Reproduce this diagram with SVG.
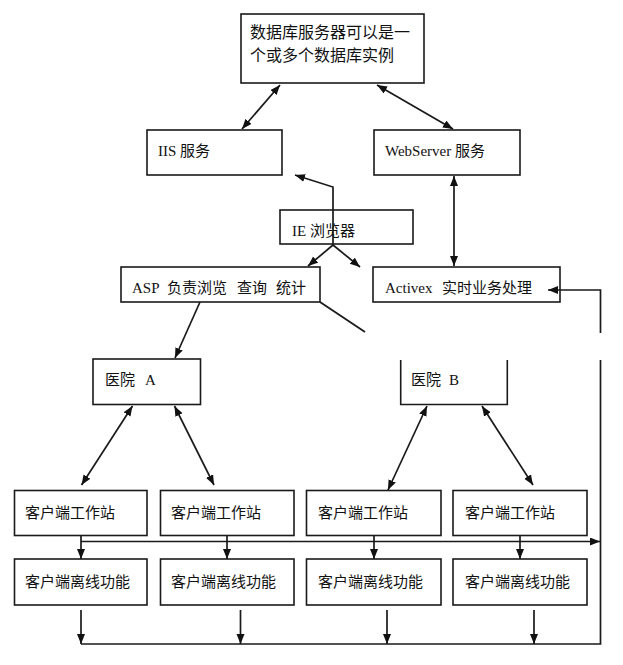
<svg xmlns="http://www.w3.org/2000/svg" width="623" height="665" viewBox="0 0 623 665">
<style>
.box{fill:#fff;stroke:#1a1a1a;stroke-width:1.6}
.open{fill:none;stroke:#1a1a1a;stroke-width:1.6}
.t{font-family:"Liberation Serif","Noto Sans CJK SC",serif;font-size:15px;fill:#111}
.t16{font-size:16px}
.ln{fill:none;stroke:#1a1a1a;stroke-width:1.7}
.a{marker-end:url(#ah)}
.aa{marker-start:url(#ah);marker-end:url(#ah)}
</style>
<defs>
<marker id="ah" markerUnits="userSpaceOnUse" markerWidth="11" markerHeight="9" refX="10" refY="4" orient="auto-start-reverse">
<path d="M0,0 L10,4 L0,8 Z" fill="#111"/>
</marker>
</defs>
<rect width="623" height="665" fill="#fff"/>
<g id="db"><rect class="box" x="241" y="14" width="183" height="69"/>
<text class="t t16" x="250" y="38">数据库服务器可以是一</text>
<text class="t t16" x="250" y="61">个或多个数据库实例</text></g>
<g id="iis"><rect class="box" x="147" y="130" width="135" height="45"/><text class="t" x="158" y="156">IIS 服务</text></g>
<g id="webserver"><rect class="box" x="374" y="130" width="146" height="45"/><text class="t" x="385" y="156">WebServer 服务</text></g>
<g id="ie"><rect class="box" x="280" y="210" width="133" height="34"/><text class="t" x="292" y="236">IE 浏览器</text></g>
<g id="asp"><rect class="box" x="121" y="267" width="199" height="35"/>
<text class="t"><tspan x="132" y="293">ASP</tspan><tspan x="167" y="293">负责浏览</tspan><tspan x="237" y="293">查询</tspan><tspan x="276" y="293">统计</tspan></text></g>
<g id="activex"><rect class="box" x="373" y="267" width="187" height="35"/>
<text class="t"><tspan x="385" y="293">Activex</tspan><tspan x="442" y="293">实时业务处理</tspan></text></g>
<g id="hospA"><rect class="box" x="93" y="359" width="107.5" height="45.5"/><text class="t"><tspan x="105" y="385">医院</tspan><tspan x="145" y="385">A</tspan></text></g>
<g id="hospB"><path class="open" d="M400.7,360 V404.5 H507.3 V360"/><text class="t"><tspan x="411" y="385">医院</tspan><tspan x="449" y="385">B</tspan></text></g>
<g id="ws1"><rect class="box" x="14.5" y="490.5" width="132.5" height="45"/><text class="t" x="25" y="518">客户端工作站</text></g>
<g id="ws2"><rect class="box" x="160.5" y="490.5" width="133.5" height="45"/><text class="t" x="171" y="518">客户端工作站</text></g>
<g id="ws3"><rect class="box" x="306.5" y="490.5" width="134.5" height="45"/><text class="t" x="318" y="518">客户端工作站</text></g>
<g id="ws4"><rect class="box" x="453" y="490.5" width="134" height="45"/><text class="t" x="465" y="518">客户端工作站</text></g>
<g id="off1"><rect class="box" x="14.5" y="559" width="132.5" height="46"/><text class="t" x="25" y="587">客户端离线功能</text></g>
<g id="off2"><rect class="box" x="160.5" y="559" width="133.5" height="46"/><text class="t" x="171" y="587">客户端离线功能</text></g>
<g id="off3"><rect class="box" x="306.5" y="559" width="134.5" height="46"/><text class="t" x="318" y="587">客户端离线功能</text></g>
<g id="off4"><rect class="box" x="453" y="559" width="134" height="46"/><text class="t" x="465" y="587">客户端离线功能</text></g>
<g id="connectors">
<line class="ln aa" x1="280" y1="85" x2="242" y2="129"/>
<line class="ln aa" x1="377" y1="85" x2="453" y2="129"/>
<path class="ln a" d="M333,245 L333,187 L295,175"/>
<path class="ln a" d="M333,245 L308,266"/>
<path class="ln a" d="M333,245 L360,267"/>
<line class="ln aa" x1="454" y1="176" x2="454" y2="266"/>
<path class="ln a" d="M600.5,333 L600.5,290 L548,290"/>
<path class="ln" d="M600.5,360 L600.5,644 L81,644"/>
<path class="ln a" d="M200,302 L175,358"/>
<path class="ln" d="M320,302 L365,332"/>
<line class="ln aa" x1="132.5" y1="406" x2="81.5" y2="485"/>
<line class="ln aa" x1="174.5" y1="406" x2="214" y2="485"/>
<line class="ln aa" x1="427" y1="406" x2="388" y2="490"/>
<line class="ln aa" x1="482" y1="406" x2="533" y2="485"/>
<path class="ln a" d="M81,541.5 L600,541.5"/>
<line class="ln a" x1="81" y1="536" x2="81" y2="559"/>
<line class="ln a" x1="227" y1="536" x2="227" y2="559"/>
<line class="ln a" x1="374" y1="536" x2="374" y2="559"/>
<line class="ln a" x1="520" y1="536" x2="520" y2="559"/>
<line class="ln a" x1="81" y1="610" x2="81" y2="644"/>
<line class="ln a" x1="240.5" y1="610" x2="240.5" y2="644"/>
<line class="ln a" x1="387" y1="610" x2="387" y2="644"/>
<line class="ln a" x1="534" y1="610" x2="534" y2="644"/>
</g>
</svg>
